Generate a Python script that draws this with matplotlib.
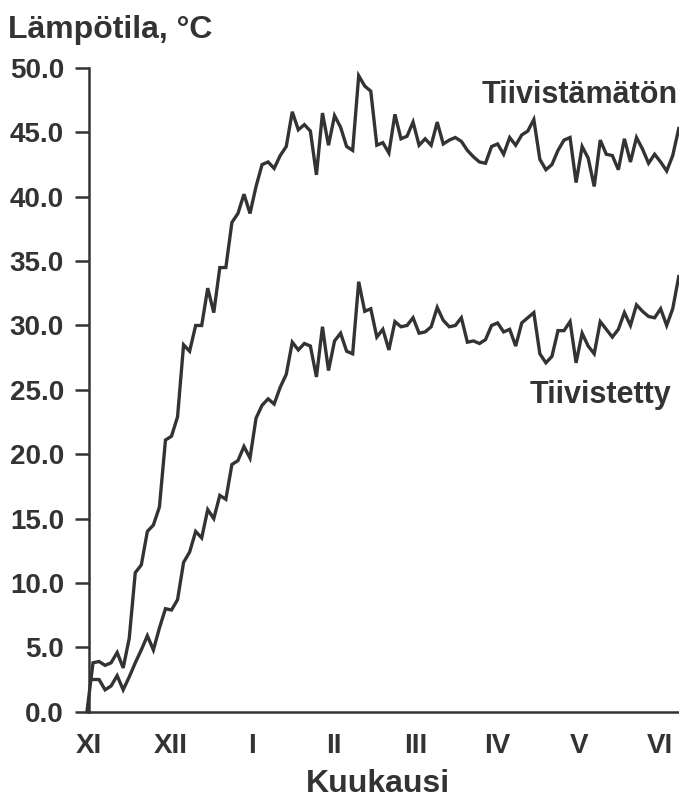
import numpy as np
import matplotlib
matplotlib.use("Agg")
import matplotlib.pyplot as plt

# Months on the x axis (Nov .. Jun)
months = ["XI", "XII", "I", "II", "III", "IV", "V", "VI"]

# Measurements roughly every 2.25 days from start of November, x in months
STEP = 0.074
START = -0.025

# Temperature, unsealed (Tiivistämätön)
unsealed = [
    0.0, 3.8, 3.9, 3.6, 3.8, 4.6, 3.4, 5.7, 10.8, 11.4,
    14.0, 14.5, 15.9, 21.1, 21.4, 22.9, 28.5, 28.0, 30.0, 30.0,
    32.9, 31.0, 34.5, 34.5, 38.0, 38.7, 40.2, 38.7, 40.8, 42.5,
    42.7, 42.2, 43.2, 43.9, 46.6, 45.2, 45.6, 45.1, 41.7, 46.5,
    44.0, 46.3, 45.4, 43.9, 43.6, 49.4, 48.6, 48.2, 44.0, 44.2,
    43.4, 46.4, 44.5, 44.7, 45.8, 44.0, 44.5, 44.0, 45.8, 44.1,
    44.4, 44.6, 44.3, 43.6, 43.1, 42.7, 42.6, 43.9, 44.1, 43.3,
    44.6, 44.0, 44.8, 45.1, 46.0, 42.9, 42.1, 42.5, 43.6, 44.4,
    44.6, 41.1, 43.9, 43.0, 40.8, 44.4, 43.3, 43.2, 42.1, 44.5,
    42.7, 44.6, 43.7, 42.6, 43.3, 42.7, 42.0, 43.2, 45.3,
]

# Temperature, sealed (Tiivistetty)
sealed = [
    2.5, 2.5, 2.5, 1.7, 2.0, 2.8, 1.7, 2.7, 3.8, 4.8,
    5.9, 4.8, 6.5, 8.0, 7.9, 8.7, 11.6, 12.4, 14.0, 13.5,
    15.7, 15.0, 16.8, 16.5, 19.2, 19.5, 20.6, 19.7, 22.8, 23.8,
    24.3, 23.9, 25.2, 26.2, 28.7, 28.1, 28.6, 28.4, 26.0, 29.9,
    26.5, 28.8, 29.4, 28.0, 27.8, 33.4, 31.1, 31.3, 29.1, 29.7,
    28.1, 30.3, 29.9, 30.0, 30.6, 29.4, 29.5, 29.9, 31.4, 30.4,
    29.9, 30.0, 30.6, 28.7, 28.8, 28.6, 28.9, 30.0, 30.2, 29.5,
    29.7, 28.4, 30.2, 30.6, 31.0, 27.8, 27.1, 27.6, 29.6, 29.6,
    30.3, 27.1, 29.4, 28.4, 27.8, 30.3, 29.7, 29.1, 29.7, 31.0,
    30.0, 31.6, 31.1, 30.7, 30.6, 31.3, 30.0, 31.3, 33.8,
]

yticks = [0, 5, 10, 15, 20, 25, 30, 35, 40, 45, 50]

INK = "#333333"
plt.rcParams["font.family"] = ["Liberation Sans", "DejaVu Sans"]
plt.rcParams["font.weight"] = "bold"

t = START + STEP * np.arange(len(unsealed))

fig = plt.figure(figsize=(6.79, 7.98), dpi=100)
ax = fig.add_axes([89 / 679, 1 - 711.7 / 798, 1 - 89 / 679, (711.7 - 68) / 798])

ax.plot(t, unsealed, color=INK, lw=2.4, clip_on=False, solid_joinstyle="miter")
# the sealed curve starts at the axis, so keep it clipped there
ax.plot(t, sealed, color=INK, lw=2.4, solid_joinstyle="miter")

ax.set_xlim(0, 7.23)
ax.set_ylim(0, 50)

for s in ["top", "right"]:
    ax.spines[s].set_visible(False)
for s in ["left", "bottom"]:
    ax.spines[s].set_color(INK)
    ax.spines[s].set_linewidth(1.8)

ax.set_yticks(yticks)
ax.set_yticklabels(["%.1f" % v for v in yticks])
ax.tick_params(axis="y", length=10, width=1.8, color=INK, pad=8,
               labelsize=20, labelcolor=INK)
ax.set_xticks(range(len(months)))
ax.set_xticklabels(months)
ax.tick_params(axis="x", length=0, pad=15, labelsize=20, labelcolor=INK)
for lab in ax.get_xticklabels() + ax.get_yticklabels():
    lab.set_fontweight("bold")

ax.text(7.22, 47.3, "Tiivistämätön", ha="right", va="baseline",
        fontsize=22, fontweight="bold", color=INK)
ax.text(7.14, 24.0, "Tiivistetty", ha="right", va="baseline",
        fontsize=22, fontweight="bold", color=INK)

fig.text(8 / 679, 1 - 38 / 798, "Lämpötila, °C", ha="left", va="baseline",
         fontsize=23, fontweight="bold", color=INK)
fig.text(378 / 679, 1 - 792 / 798, "Kuukausi", ha="center", va="baseline",
         fontsize=23, fontweight="bold", color=INK)

fig.savefig("out.png", dpi=100)
